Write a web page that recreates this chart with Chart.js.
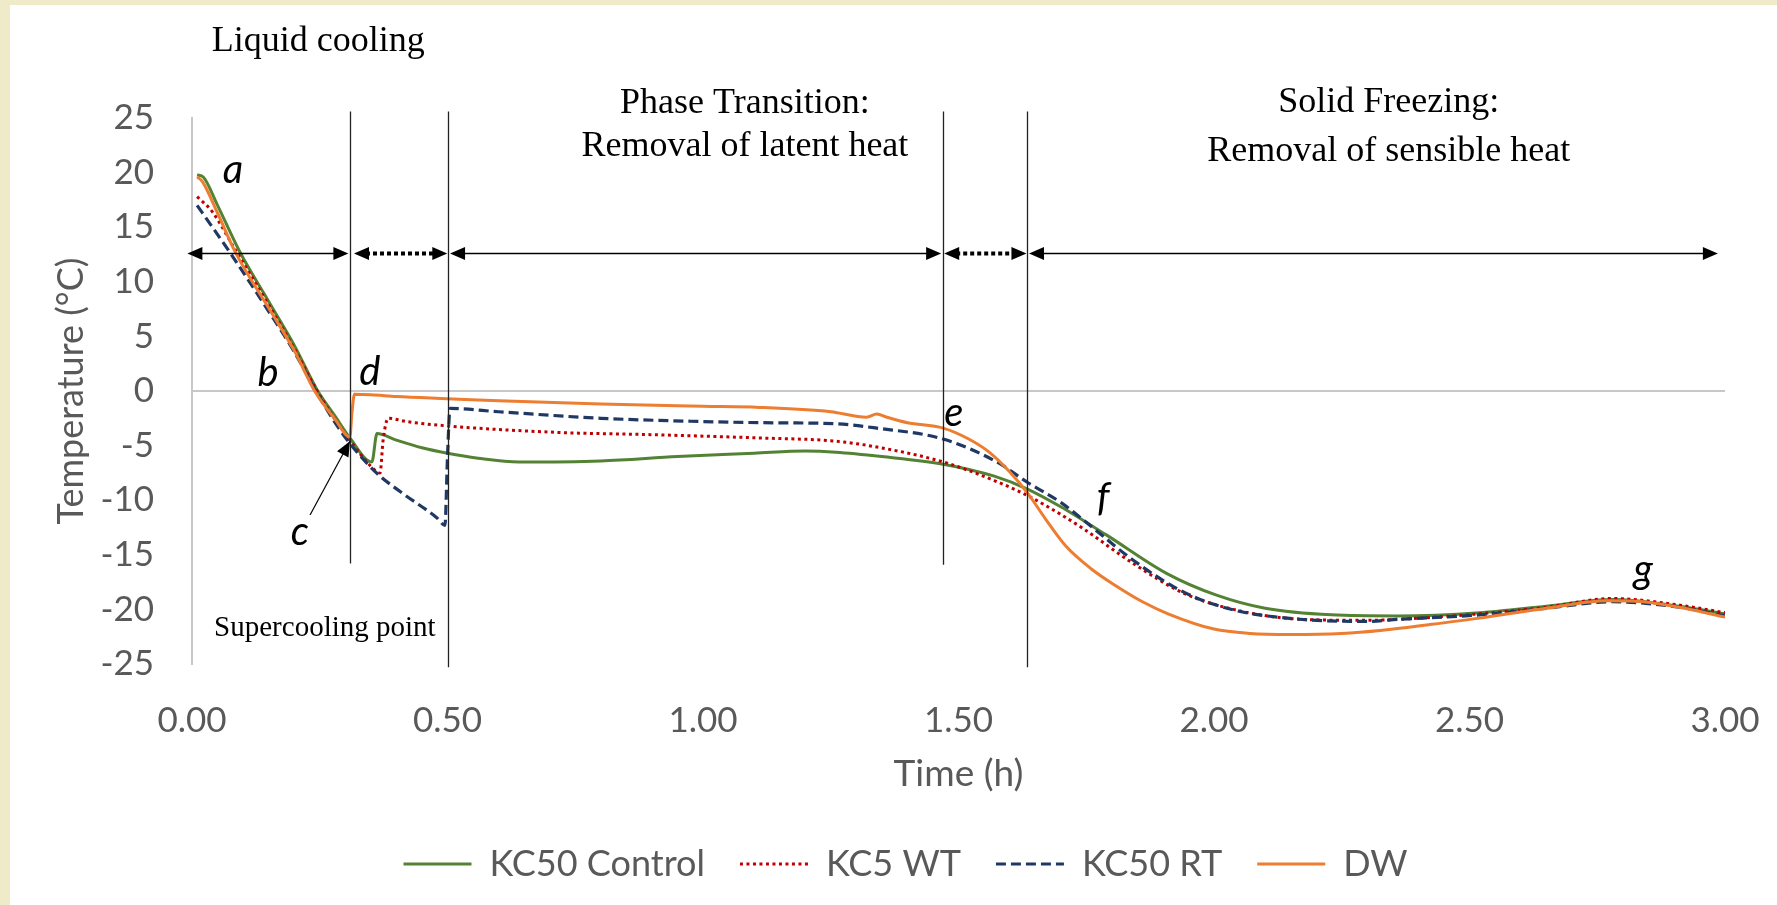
<!DOCTYPE html>
<html>
<head>
<meta charset="utf-8">
<script src="https://cdn.jsdelivr.net/npm/chart.js@4.4.1/dist/chart.umd.min.js"></script>
<style>
  html, body { margin: 0; padding: 0; background: #fff; }
  #frame { position: absolute; left: 0; top: 0; width: 1777px; height: 905px; background: #efebc8; }
  #card { position: absolute; left: 10px; top: 5px; width: 1767px; height: 900px; background: #fff; }
</style>
</head>
<body>
<div id="frame"><div id="card"><canvas id="chart" width="1767" height="900"></canvas></div></div>
<script>
// Time (h) / temperature (°C)
const controlTime = [0.01, 0.022, 0.05, 0.094, 0.15, 0.20, 0.245, 0.28, 0.309, 0.352, 0.362, 0.40, 0.45, 0.50, 0.56, 0.64, 0.80, 0.95, 1.10, 1.20, 1.26, 1.35, 1.47, 1.57, 1.636, 1.70, 1.79, 1.907, 2.005, 2.10, 2.23, 2.36, 2.52, 2.65, 2.78, 2.91, 3.00];
const controlTemp = [19.8, 19.6, 17.0, 12.7, 8.2, 4.2, 0.1, -2.3, -4.3, -6.5, -3.9, -4.5, -5.2, -5.7, -6.15, -6.5, -6.4, -6.0, -5.7, -5.5, -5.6, -6.0, -6.7, -7.8, -9.0, -10.6, -13.2, -16.7, -18.7, -19.9, -20.5, -20.6, -20.3, -19.7, -19.1, -19.7, -20.4];

const wtTime = [0.01, 0.04, 0.08, 0.15, 0.20, 0.245, 0.28, 0.309, 0.35, 0.368, 0.374, 0.384, 0.42, 0.50, 0.72, 0.90, 1.11, 1.26, 1.36, 1.47, 1.57, 1.636, 1.70, 1.744, 1.842, 1.94, 2.038, 2.168, 2.30, 2.364, 2.52, 2.65, 2.78, 2.91, 3.00];
const wtTemp = [17.8, 16.4, 13.3, 7.9, 3.9, 0.0, -2.6, -4.5, -6.9, -7.5, -4.5, -2.5, -2.8, -3.2, -3.8, -4.0, -4.3, -4.6, -5.3, -6.5, -8.2, -9.6, -11.3, -12.6, -15.8, -18.5, -20.0, -20.9, -21.0, -20.9, -20.4, -19.8, -19.0, -19.6, -20.3];

const rtTime = [0.01, 0.04, 0.074, 0.15, 0.20, 0.245, 0.28, 0.309, 0.361, 0.413, 0.479, 0.495, 0.500, 0.505, 0.60, 0.80, 1.00, 1.11, 1.26, 1.34, 1.47, 1.575, 1.636, 1.70, 1.744, 1.842, 1.94, 2.038, 2.168, 2.30, 2.364, 2.52, 2.65, 2.78, 2.91, 3.00];
const rtTemp = [17.0, 15.0, 12.7, 7.3, 3.6, -0.2, -2.9, -4.8, -7.5, -9.4, -11.6, -12.3, -6.0, -1.6, -1.9, -2.5, -2.8, -2.9, -3.0, -3.4, -4.4, -6.5, -8.4, -10.2, -11.8, -15.5, -18.4, -20.05, -20.9, -21.1, -20.9, -20.5, -19.9, -19.3, -19.8, -20.6];

const dwTime = [0.01, 0.02, 0.05, 0.085, 0.15, 0.20, 0.24, 0.28, 0.309, 0.313, 0.318, 0.35, 0.40, 0.50, 0.60, 0.80, 1.00, 1.11, 1.25, 1.32, 1.34, 1.36, 1.40, 1.47, 1.52, 1.56, 1.60, 1.636, 1.67, 1.71, 1.76, 1.81, 1.86, 1.91, 2.00, 2.07, 2.15, 2.25, 2.33, 2.42, 2.52, 2.65, 2.77, 2.84, 2.91, 3.00];
const dwTemp = [19.6, 19.2, 16.3, 12.7, 7.6, 3.7, 0.0, -2.6, -4.2, -2.0, -0.3, -0.35, -0.5, -0.7, -0.9, -1.2, -1.4, -1.5, -1.9, -2.4, -2.1, -2.4, -2.9, -3.4, -4.4, -5.6, -7.4, -9.4, -11.7, -14.2, -16.3, -17.9, -19.3, -20.4, -21.8, -22.2, -22.3, -22.2, -21.9, -21.4, -20.8, -19.9, -19.2, -19.3, -19.8, -20.7];

const seriesNames = ['KC50 Control', 'KC5 WT', 'KC50 RT', 'DW'];
const xTicks = [0, 0.5, 1, 1.5, 2, 2.5, 3];
const yTicks = [-25, -20, -15, -10, -5, 0, 5, 10, 15, 20, 25];

// stage boundaries (h) and the double arrows between them
const stageLines = [[0.31, 25.6, -15.8], [0.50, 25.6, -25.3], [1.47, 25.6, -15.9], [1.635, 25.6, -25.3]];
const stageArrows = [[-0.009, 0.306, false], [0.317, 0.4996, true], [0.505, 1.466, false], [1.472, 1.633, true], [1.638, 2.986, false]];
const arrowLevel = 12.6;

const pts = (ts, vs) => ts.map((t, i) => ({ x: t, y: vs[i] }));

const serif = 'Liberation Serif, Times New Roman, serif';
const sans = 'Lato, Open Sans, sans-serif';

function arrowHead(ctx, x0, y0, x1, y1, len, half) {
  const a = Math.atan2(y1 - y0, x1 - x0);
  ctx.beginPath();
  ctx.moveTo(x1, y1);
  ctx.lineTo(x1 - len * Math.cos(a) + half * Math.sin(a), y1 - len * Math.sin(a) - half * Math.cos(a));
  ctx.lineTo(x1 - len * Math.cos(a) - half * Math.sin(a), y1 - len * Math.sin(a) + half * Math.cos(a));
  ctx.closePath();
  ctx.fill();
}

const annotate = {
  id: 'annotate',
  afterLayout(chart) {
    // Excel centres the legend a little right of the canvas centre
    chart.legend.left += 38;
    chart.legend.right += 38;
  },
  afterDatasetsDraw(chart) {
    const { ctx, scales: { x, y } } = chart;
    ctx.save();
    ctx.strokeStyle = '#222';
    ctx.fillStyle = '#000';
    ctx.lineWidth = 1.3;
    stageLines.forEach(([t, top, bot]) => {
      const px = Math.round(x.getPixelForValue(t)) + 0.5;
      ctx.beginPath();
      ctx.moveTo(px, y.getPixelForValue(top));
      ctx.lineTo(px, y.getPixelForValue(bot));
      ctx.stroke();
    });

    const ay = Math.round(y.getPixelForValue(arrowLevel)) + 0.5;
    stageArrows.forEach(([a, b, dotted]) => {
      const xa = x.getPixelForValue(a), xb = x.getPixelForValue(b);
      ctx.strokeStyle = '#000';
      if (dotted) { ctx.lineWidth = 4; ctx.setLineDash([4, 3]); }
      else { ctx.lineWidth = 1.5; ctx.setLineDash([]); }
      ctx.beginPath();
      ctx.moveTo(xa + 12, ay);
      ctx.lineTo(xb - 12, ay);
      ctx.stroke();
      ctx.setLineDash([]);
      arrowHead(ctx, xb, ay, xa, ay, 15, 6.5);
      arrowHead(ctx, xa, ay, xb, ay, 15, 6.5);
    });

    // pointer from "c" to the supercooling point
    const c0x = x.getPixelForValue(0.231), c0y = y.getPixelForValue(-11.35);
    const c1x = x.getPixelForValue(0.309), c1y = y.getPixelForValue(-4.6);
    ctx.lineWidth = 1.2;
    ctx.beginPath();
    ctx.moveTo(c0x, c0y);
    ctx.lineTo(c1x, c1y);
    ctx.stroke();
    arrowHead(ctx, c0x, c0y, c1x, c1y, 15, 6.5);

    ctx.textAlign = 'center';
    ctx.textBaseline = 'middle';
    ctx.fillStyle = '#000';
    const notes = [
      ['Liquid cooling', 0.247, 32.0, 36],
      ['Phase Transition:', 1.082, 26.3, 36],
      ['Removal of latent heat', 1.082, 22.4, 36],
      ['Solid Freezing:', 2.342, 26.4, 36],
      ['Removal of sensible heat', 2.342, 21.9, 36],
      ['Supercooling point', 0.26, -21.7, 29]
    ];
    notes.forEach(([txt, t, v, size]) => {
      ctx.font = size + 'px ' + serif;
      ctx.fillText(txt, x.getPixelForValue(t), y.getPixelForValue(v));
    });

    const marks = [['a', 0.080, 20.2], ['b', 0.149, 1.65], ['c', 0.211, -12.9], ['d', 0.348, 1.7],
                   ['e', 1.491, -2.0], ['f', 1.783, -9.8], ['g', 2.84, -16.4]];
    ctx.font = 'italic 40px ' + sans;
    marks.forEach(([txt, t, v]) => ctx.fillText(txt, x.getPixelForValue(t), y.getPixelForValue(v)));
    ctx.restore();
  }
};

const line = (label, data, color, dash, width, order) => ({
  label, data, borderColor: color, backgroundColor: color, borderWidth: width,
  borderDash: dash, pointRadius: 0, showLine: true, fill: false,
  cubicInterpolationMode: 'monotone', order
});

new Chart(document.getElementById('chart'), {
  type: 'scatter',
  data: {
    datasets: [
      line(seriesNames[0], pts(controlTime, controlTemp), '#548235', [], 3, 4),
      line(seriesNames[1], pts(wtTime, wtTemp), '#c00000', [3, 3.5], 3, 3),
      line(seriesNames[2], pts(rtTime, rtTemp), '#203864', [10, 5], 3.2, 2),
      line(seriesNames[3], pts(dwTime, dwTemp), '#ed7d31', [], 3, 1)
    ]
  },
  options: {
    responsive: false,
    animation: false,
    devicePixelRatio: 1,
    layout: { padding: { left: 0, right: 52, top: 113, bottom: 13 } },
    scales: {
      x: {
        type: 'linear', min: 0, max: 3,
        afterBuildTicks: s => { s.ticks = xTicks.map(v => ({ value: v })); },
        afterFit: s => { s.height = 147; },
        grid: { display: false },
        border: { display: false },
        ticks: { callback: v => v.toFixed(2), padding: 17, maxRotation: 0, autoSkip: false,
                 color: '#595959', font: { family: sans, size: 35, lineHeight: 1.79 } },
        title: { display: true, text: 'Time (h)', color: '#595959',
                 font: { family: sans, size: 37 }, padding: { top: 0, bottom: 15 } }
      },
      y: {
        min: -25, max: 25,
        afterBuildTicks: s => { s.ticks = yTicks.map(v => ({ value: v })); },
        afterFit: s => { s.width = 182; },
        grid: { drawTicks: false, lineWidth: 2,
                color: c => (c.tick && c.tick.value === 0 ? '#c8c8c8' : 'rgba(0,0,0,0)') },
        border: { display: true, color: '#c8c8c8', width: 2 },
        ticks: { padding: 38, color: '#595959', font: { family: sans, size: 35 } },
        title: { display: true, text: 'Temperature (°C)', color: '#595959',
                 font: { family: sans, size: 36 }, padding: { top: 40, bottom: 0 } }
      }
    },
    plugins: {
      legend: {
        position: 'bottom',
        labels: {
          usePointStyle: true, pointStyle: 'line', pointStyleWidth: 68, padding: 35,
          color: '#595959', font: { family: sans, size: 36 },
          generateLabels: chart => chart.data.datasets.map((ds, i) => ({
            text: ds.label, datasetIndex: i, hidden: false,
            strokeStyle: ds.borderColor, fillStyle: ds.borderColor, fontColor: '#595959',
            lineWidth: ds.borderWidth, lineDash: ds.borderDash, pointStyle: 'line'
          }))
        }
      },
      tooltip: { enabled: false }
    }
  },
  plugins: [annotate]
});
</script>
</body>
</html>
